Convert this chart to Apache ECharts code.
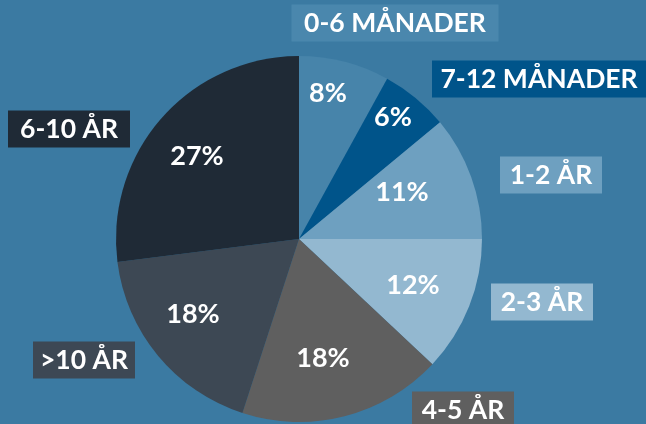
<!DOCTYPE html>
<html>
<head>
<meta charset="utf-8">
<script src="https://cdn.jsdelivr.net/npm/echarts@6/dist/echarts.min.js"></script>
<style>
html,body{margin:0;padding:0;background:#3b7aa2;}
#c{width:646px;height:424px;}
</style>
</head>
<body>
<div id="c"></div>
<script>
const categories = ['0-6 MÅNADER', '7-12 MÅNADER', '1-2 ÅR', '2-3 ÅR', '4-5 ÅR', '>10 ÅR', '6-10 ÅR'];
const values = [8, 6, 11, 12, 18, 18, 27];

const colors = ['#4784aa', '#00548a', '#6ea0c0', '#93b8d0', '#5f5f5f', '#3d4854', '#1f2a36'];
const boxColors = ['#4a87ad', '#00548a', '#6ea0c0', '#93b8d0', '#5f5f5f', '#3d4854', '#1f2a36'];
const pctPos = [[328, 93], [393, 117], [402, 192], [413, 285], [323, 358], [193, 314], [197, 156]];
const namePos = [[395, 23], [539, 79], [551, 175], [542, 302], [463, 410], [84, 360], [69, 129]];
const boxW = [207, 214, 102, 102, 102, 102, 122];

const FONT = 'Lato';
const chart = echarts.init(document.getElementById('c'), null, {renderer: 'canvas'});
chart.setOption({
  backgroundColor: '#3b7aa2',
  animation: false,
  series: [
    {
      type: 'pie',
      center: [299, 239],
      radius: [0, 183],
      startAngle: 90,
      clockwise: true,
      avoidLabelOverlap: false,
      silent: true,
      data: categories.map((n, i) => ({name: n, value: values[i], itemStyle: {color: colors[i]}})),
      label: {
        show: true, position: 'inside', formatter: '{c}%',
        color: '#fff', fontFamily: FONT, fontWeight: 'bold', fontSize: 27
      },
      labelLine: {show: false},
      labelLayout: p => ({x: pctPos[p.dataIndex][0], y: pctPos[p.dataIndex][1], align: 'center', verticalAlign: 'middle'})
    },
    {
      type: 'pie',
      center: [299, 239],
      radius: [0, 183],
      startAngle: 90,
      clockwise: true,
      avoidLabelOverlap: false,
      silent: true,
      z: 3,
      itemStyle: {color: 'rgba(0,0,0,0)'},
      data: categories.map((n, i) => ({
        name: n, value: values[i],
        label: {backgroundColor: boxColors[i], width: boxW[i]}
      })),
      label: {
        show: true, position: 'outside', formatter: '{b}',
        color: '#fff', fontFamily: FONT, fontWeight: 'bold', fontSize: 26.5,
        align: 'center', lineHeight: 37, height: 37, padding: [0, 0]
      },
      labelLine: {show: false},
      labelLayout: p => ({x: namePos[p.dataIndex][0], y: namePos[p.dataIndex][1], align: 'center', verticalAlign: 'middle'})
    }
  ]
});
</script>
</body>
</html>
